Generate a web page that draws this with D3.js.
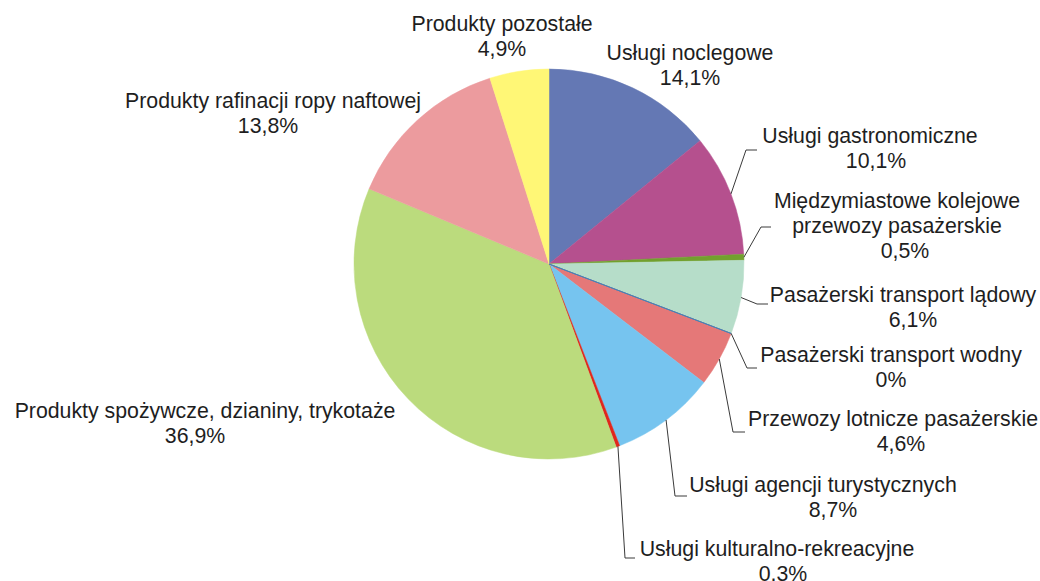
<!DOCTYPE html>
<html>
<head>
<meta charset="utf-8">
<script src="https://cdn.jsdelivr.net/npm/d3@7"></script>
<style>
body { margin: 0; background: #fff; }
svg text { font-family: "Liberation Sans", Arial, sans-serif; font-size: 21.3px; fill: #1e1e1e; }
</style>
</head>
<body>
<script>
// data, clockwise from 12 o'clock
var categories = [
    "Usługi noclegowe",
    "Usługi gastronomiczne",
    "Międzymiastowe kolejowe\nprzewozy pasażerskie",
    "Pasażerski transport lądowy",
    "Pasażerski transport wodny",
    "Przewozy lotnicze pasażerskie",
    "Usługi agencji turystycznych",
    "Usługi kulturalno-rekreacyjne",
    "Produkty spożywcze, dzianiny, trykotaże",
    "Produkty rafinacji ropy naftowej",
    "Produkty pozostałe"
]
var values = [14.1, 10.1, 0.5, 6.1, 0, 4.6, 8.7, 0.3, 36.9, 13.8, 4.9]
var valueLabels = ["14,1%", "10,1%", "0,5%", "6,1%", "0%", "4,6%", "8,7%", "0,3%", "36,9%", "13,8%", "4,9%"]

var colors = ["#6478b4", "#b5508e", "#72a02e", "#b6ddc9", "#4a80b4", "#e57878",
              "#76c4ef", "#e0261d", "#bbdb7d", "#ec9b9e", "#fff776"]

// label layout: cx = centre of text, y = baseline of first line, vdx = shift of value line
// leader = [elbowX, elbowY, endX] or null
var labelLayout = [
    {cx: 690, y: 60, vdx: 0, leader: null},
    {cx: 870, y: 143, vdx: 6, leader: [746, 150, 757]},
    {cx: 897, y: 208, vdx: 8, leader: [761, 227, 771]},
    {cx: 903, y: 302, vdx: 10, leader: [757, 304, 768]},
    {cx: 891, y: 362, vdx: 0, leader: [747, 368, 757]},
    {cx: 893, y: 426, vdx: 8, leader: [733, 432, 745]},
    {cx: 823, y: 492, vdx: 10, leader: [675, 496, 687]},
    {cx: 777, y: 556, vdx: 6, leader: [625, 558, 635]},
    {cx: 205, y: 418, vdx: -10, leader: null},
    {cx: 273, y: 108, vdx: -5, leader: null},
    {cx: 502, y: 31, vdx: 0, leader: null}
]

var screen = {width: 1040, height: 581}
var center = {x: 549, y: 264}
var radius = 195
var lineGap = 24.8

var svg = d3.select("body")
    .append("svg")
    .attr("width", screen.width)
    .attr("height", screen.height)

var slices = categories.map(function (c, i) {
    return {name: c, value: values[i], label: valueLabels[i], color: colors[i], layout: labelLayout[i]}
})

var pie = d3.pie()
    .sort(null)
    .value(function (d) { return d.value })

var arcs = pie(slices)

var arc = d3.arc()
    .innerRadius(0)
    .outerRadius(radius)

var edge = d3.arc()
    .innerRadius(radius)
    .outerRadius(radius)

var g = svg.append("g")
    .attr("transform", "translate(" + center.x + "," + center.y + ")")

// zero slices last so their line stays visible
var ordered = arcs.filter(function (a) { return a.data.value > 0 })
    .concat(arcs.filter(function (a) { return a.data.value == 0 }))

g.selectAll("path")
    .data(ordered)
    .enter()
    .append("path")
    .attr("d", arc)
    .attr("fill", function (a) { return a.data.color })
    .attr("stroke", function (a) { return a.data.color })
    .attr("stroke-width", function (a) { return a.data.value == 0 ? 1 : 0.5 })

// leader lines
svg.selectAll("polyline.leader")
    .data(arcs.filter(function (a) { return a.data.layout.leader }))
    .enter()
    .append("polyline")
    .attr("class", "leader")
    .attr("fill", "none")
    .attr("stroke", "#3a3a3a")
    .attr("stroke-width", 1)
    .attr("points", function (a) {
        var p = edge.centroid(a)
        var L = a.data.layout.leader
        return [[p[0] + center.x, p[1] + center.y], [L[0], L[1]], [L[2], L[1]]].join(" ")
    })

// labels
var labels = svg.selectAll("text.label")
    .data(arcs)
    .enter()
    .append("text")
    .attr("class", "label")
    .attr("text-anchor", "middle")

labels.each(function (a) {
    var t = d3.select(this)
    var lay = a.data.layout
    var lines = a.data.name.split("\n")
    lines.forEach(function (ln, k) {
        t.append("tspan")
            .attr("x", lay.cx)
            .attr("y", lay.y + k * lineGap)
            .text(ln)
    })
    t.append("tspan")
        .attr("x", lay.cx + lay.vdx)
        .attr("y", lay.y + lines.length * lineGap)
        .text(a.data.label)
})
</script>
</body>
</html>
